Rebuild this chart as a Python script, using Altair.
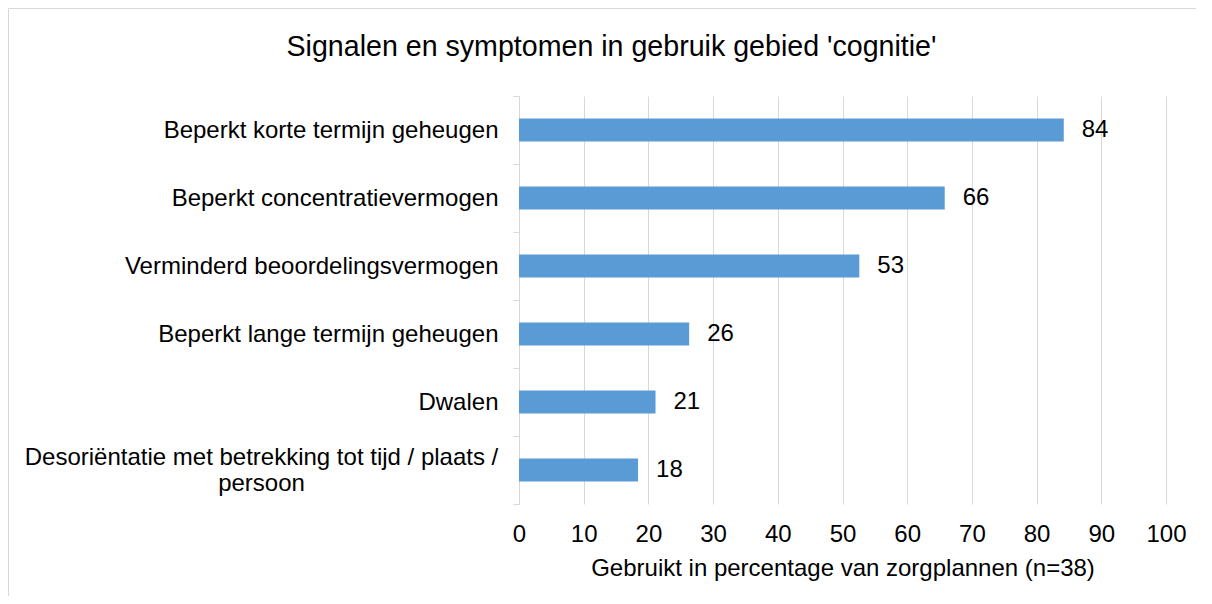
import altair as alt
import pandas as pd

categories = [
    "Beperkt korte termijn geheugen",
    "Beperkt concentratievermogen",
    "Verminderd beoordelingsvermogen",
    "Beperkt lange termijn geheugen",
    "Dwalen",
    "Desoriëntatie met betrekking tot tijd / plaats /\npersoon",
]
values = [84.2, 65.8, 52.6, 26.3, 21.1, 18.4]
x_ticks = [0, 10, 20, 30, 40, 50, 60, 70, 80, 90, 100]
chart_title = "Signalen en symptomen in gebruik gebied 'cognitie'"
x_title = "Gebruikt in percentage van zorgplannen (n=38)"

FONT = "Liberation Sans"
GRID = "#d9d9d9"
BAR = "#5b9bd5"

df = pd.DataFrame({"cat": categories, "val": values})
frame_df = pd.DataFrame({"k": [0]})

multi_test = "datum.value === '" + categories[5].replace("\n", "\\n") + "'"

y_enc = alt.Y(
    "cat:N",
    sort=categories,
    scale=alt.Scale(paddingInner=0, paddingOuter=0),
    axis=alt.Axis(
        title=None,
        labelExpr="split(datum.label, '\\n')",
        labelFont=FONT,
        labelFontSize=24,
        labelColor="#000000",
        labelLimit=700,
        labelLineHeight=26,
        labelAlign={"condition": {"test": multi_test, "value": "center"}, "value": "right"},
        labelPadding={"condition": {"test": multi_test, "value": 252}, "value": 15},
        labelOffset={"condition": {"test": multi_test, "value": -13}, "value": 0},
        labelBaseline="middle",
        tickBand="extent",
        tickSize=6,
        tickColor=GRID,
        domainColor=GRID,
        grid=False,
    ),
)

x_enc = alt.X(
    "val:Q",
    scale=alt.Scale(domain=[0, 100]),
    axis=alt.Axis(
        values=x_ticks,
        title=x_title,
        grid=True,
        gridColor=GRID,
        gridWidth=1,
        domain=False,
        ticks=False,
        tickSize=0,
        labelFlush=False,
        labelFont=FONT,
        labelFontSize=24,
        labelColor="#000000",
        labelPadding=18,
        titleFont=FONT,
        titleFontSize=24,
        titleFontWeight="normal",
        titleColor="#000000",
        titlePadding=10,
    ),
)

border_left = alt.Chart(frame_df).mark_rule(color=GRID, strokeWidth=1).encode(
    x=alt.value(-510.5),
    y=alt.value(-87.5),
    y2=alt.value(3000),
)
border_top = alt.Chart(frame_df).mark_rule(color=GRID, strokeWidth=1).encode(
    x=alt.value(-510.5),
    x2=alt.value(3000),
    y=alt.value(-87.5),
)

bars = alt.Chart(df).mark_bar(color=BAR, height={"band": 0.34}).encode(x=x_enc, y=y_enc)

labels = alt.Chart(df).mark_text(
    align="left", baseline="middle", dx=18, font=FONT, fontSize=24, color="#000000"
).encode(
    x=alt.X("val:Q"),
    y=y_enc,
    text=alt.Text("val:Q", format=".0f"),
)

chart = (
    alt.layer(border_left, border_top, bars, labels)
    .properties(
        width=647,
        height=408,
        autosize=alt.AutoSizeParams(type="none"),
        padding={"left": 511, "top": 88, "right": 30, "bottom": 92},
        title=alt.Title(
            chart_title,
            font=FONT,
            fontSize=28.6,
            fontWeight="normal",
            color="#000000",
            frame="group",
            anchor="middle",
            dx=-231,
            dy=84,
            offset=30,
        ),
    )
    .configure_view(strokeWidth=0)
)

chart.save("out.html", embed_options={"renderer": "svg", "actions": False})
